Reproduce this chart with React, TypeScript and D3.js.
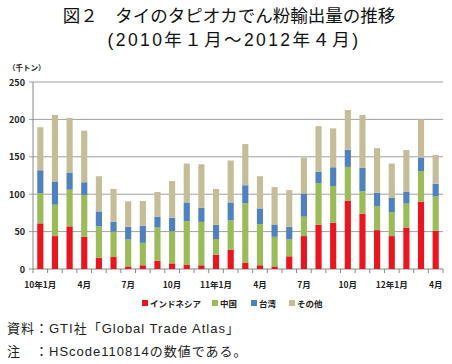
import React from "react";
import * as d3 from "d3";

const months = [
  "2010-01", "2010-02", "2010-03", "2010-04", "2010-05", "2010-06", "2010-07",
  "2010-08", "2010-09", "2010-10", "2010-11", "2010-12", "2011-01", "2011-02",
  "2011-03", "2011-04", "2011-05", "2011-06", "2011-07", "2011-08", "2011-09",
  "2011-10", "2011-11", "2011-12", "2012-01", "2012-02", "2012-03", "2012-04",
];
const monthLabels = [
  "10年1月", "", "", "4月", "", "", "7月", "", "", "10月", "", "",
  "11年1月", "", "", "4月", "", "", "7月", "", "", "10月", "", "",
  "12年1月", "", "", "4月",
];

// 千トン
const indonesia = [61, 44, 57, 43, 15, 16, 3.5, 5, 11, 7.5, 6, 5, 19, 26, 8, 5, 3.5, 17, 44, 59, 62, 91.5, 74, 52, 44, 55.5, 90, 51];
const china = [40.5, 42, 49, 56, 42, 34, 36, 30, 44.5, 43, 58, 58, 21, 39, 80, 55, 39.5, 22.5, 26, 56, 49, 45, 30, 31.5, 32, 32, 41, 46];
const taiwan = [30.5, 31, 23, 17, 20, 13, 17, 23, 14.5, 18, 25, 19, 19, 24, 24, 21, 16.5, 17, 31, 15, 25, 23, 31.5, 18.5, 19, 16, 18, 17];
const others = [57.5, 89, 73, 69, 47, 44, 34, 33, 33, 49, 52, 58, 48, 56, 55, 43, 50, 49, 48, 61, 52, 53, 70.5, 59.5, 46, 55.5, 51, 38.5];

const seriesNames = ["インドネシア", "中国", "台湾", "その他"];
const colors = ["#e8161f", "#9bbb59", "#4f81bd", "#c4bd97"];
const yTicks = [0, 50, 100, 150, 200, 250];

const font = "'Noto Sans CJK JP', 'Noto Sans', sans-serif";
const mixed = "'Liberation Sans', 'Noto Sans CJK JP', sans-serif";

export default function App() {
  const width = 452;
  const height = 364;
  const left = 33;
  const right = 443;
  const top = 82;
  const bottom = 269;

  const rows = months.map((m, i) => ({
    month: m,
    s0: indonesia[i],
    s1: china[i],
    s2: taiwan[i],
    s3: others[i],
  }));
  const keys = ["s0", "s1", "s2", "s3"];
  const stacked = d3.stack<any>().keys(keys)(rows);

  const x = d3
    .scaleBand<string>()
    .domain(months)
    .range([left, right])
    .paddingInner(0.58)
    .paddingOuter(0.29);
  const y = d3.scaleLinear().domain([0, 250]).range([bottom, top]);

  const step = (right - left) / months.length;
  const tickXs = d3.range(months.length + 1).map((i) => left + i * step);

  const legendX = [142, 212, 251, 289];

  return (
    <svg
      width={width}
      height={height}
      style={{ position: "absolute", left: 0, top: 0, background: "#fff" }}
      fontFamily={font}
    >
      <text x={229} y={22} textAnchor="middle" fontSize={17.5} fill="#111">
        図２　タイのタピオカでん粉輸出量の推移
      </text>
      <text
        x={234}
        y={46}
        textAnchor="middle"
        fontSize={17.5}
        fill="#111"
        fontFamily={mixed}
        letterSpacing={2.4}
      >
        (2010年１月～2012年４月)
      </text>

      <text x={8} y={71} fontSize={7.5} fontWeight="bold" fill="#222">
        （千トン）
      </text>

      {/* grid */}
      {yTicks.map((t) => (
        <g key={t}>
          <line
            x1={left - 4}
            x2={right}
            y1={y(t)}
            y2={y(t)}
            stroke={t === 0 ? "#888" : "#a0a0a0"}
            strokeWidth={1}
          />
          <text
            x={25}
            y={y(t) + 3.5}
            textAnchor="end"
            fontSize={9}
            fontWeight="bold"
            fill="#222"
          >
            {t}
          </text>
        </g>
      ))}
      <line x1={left} x2={left} y1={top} y2={bottom} stroke="#888" />
      {tickXs.map((tx, i) => (
        <line key={i} x1={tx} x2={tx} y1={bottom} y2={bottom + 4} stroke="#888" />
      ))}

      {/* bars */}
      {stacked.map((layer, li) => (
        <g key={layer.key} fill={colors[li]}>
          {layer.map((d, i) => (
            <rect
              key={i}
              x={x(months[i])}
              width={x.bandwidth()}
              y={y(d[1])}
              height={y(d[0]) - y(d[1])}
            />
          ))}
        </g>
      ))}

      {/* x labels */}
      {monthLabels.map((l, i) =>
        l ? (
          <text
            key={i}
            x={(x(months[i]) as number) + x.bandwidth() / 2}
            y={288}
            textAnchor="middle"
            fontSize={8.5}
            fontWeight="bold"
            fill="#222"
          >
            {l}
          </text>
        ) : null
      )}

      {/* legend */}
      {seriesNames.map((n, i) => (
        <g key={n}>
          <rect x={legendX[i]} y={300} width={6} height={6} fill={colors[i]} />
          <text x={legendX[i] + 8} y={306.5} fontSize={8.5} fontWeight="bold" fill="#222">
            {n}
          </text>
        </g>
      ))}

      <text x={7} y={333} fontSize={13} fill="#222" fontFamily={mixed} letterSpacing={1}>
        資料：GTI社「Global Trade Atlas」
      </text>
      <text x={7} y={356} fontSize={13} fill="#222" fontFamily={mixed} letterSpacing={1}>
        注　：HScode110814の数値である。
      </text>
    </svg>
  );
}
